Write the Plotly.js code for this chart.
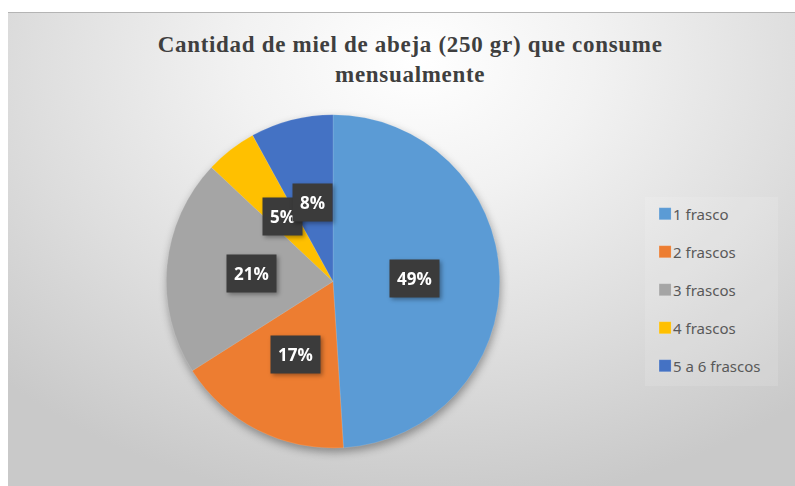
<!DOCTYPE html>
<html>
<head>
<meta charset="utf-8">
<script src="https://cdn.plot.ly/plotly-3.0.1.min.js"></script>
<style>
  html, body { margin: 0; padding: 0; background: #ffffff; width: 795px; height: 486px; overflow: hidden; }
  #wrap {
    position: absolute; left: 8px; top: 12px; width: 787px; height: 474px;
    background: radial-gradient(ellipse 75% 95% at 52% 10%, #ffffff 0%, #f2f2f2 30%, #dedede 65%, #c9c9c9 100%);
    border-top: 1px solid #b4b4b4;
    box-sizing: border-box;
  }
  #chart { width: 787px; height: 473px; }
  .pielayer { filter: drop-shadow(1px 4px 4px rgba(0,0,0,0.35)); }
  .annotation { filter: drop-shadow(2px 2px 2px rgba(0,0,0,0.35)); }
</style>
</head>
<body>
<div id="wrap"><div id="chart"></div></div>
<script>
const categories = ["1 frasco", "2 frascos", "3 frascos", "4 frascos", "5 a 6 frascos"];
const values = [49, 17, 21, 5, 8];
const colors = ["#5B9BD5", "#ED7D31", "#A5A5A5", "#FFC000", "#4472C4"];
const titleText = "Cantidad de miel de abeja (250 gr) que consume<br>mensualmente";

const W = 787, H = 473;
const domX = [0.1995, 0.6264];
const domY = [0.080, 0.785];

// label positions derived from the data (mid-angle of each slice, clockwise from 12 o'clock)
const cxPx = (domX[0] + domX[1]) / 2 * W;
const cyPx = (1 - (domY[0] + domY[1]) / 2) * H;
const Rpx = Math.min((domX[1] - domX[0]) * W, (domY[1] - domY[0]) * H) / 2;
const total = values.reduce((a, b) => a + b, 0);
let cum = 0;
const annotations = values.map((v, i) => {
  const mid = (cum + v / 2) / total * 2 * Math.PI;
  cum += v;
  const r = 0.49 * Rpx;
  const px = cxPx + r * Math.sin(mid);
  const py = cyPx - r * Math.cos(mid);
  return {
    xref: "paper", yref: "paper", x: px / W, y: 1 - py / H,
    text: Math.round(v / total * 100) + "%",
    showarrow: false,
    font: { family: "Open Sans", size: 17, color: "#ffffff", weight: "bold" },
    bgcolor: "#3b3b3b",
    borderpad: 7,
    xanchor: "center", yanchor: "middle"
  };
});

const data = [{
  type: "pie",
  labels: categories,
  values: values,
  sort: false,
  direction: "clockwise",
  rotation: 0,
  marker: { colors: colors, line: { color: "rgba(255,255,255,0.25)", width: 0.5 } },
  textinfo: "none",
  hoverinfo: "label+percent",
  domain: { x: domX, y: domY }
}];

const layout = {
  width: W, height: H,
  margin: { l: 0, r: 0, t: 0, b: 0 },
  paper_bgcolor: "rgba(0,0,0,0)",
  plot_bgcolor: "rgba(0,0,0,0)",
  title: {
    text: titleText,
    font: { family: "Liberation Serif", size: 23, color: "#3f3f3f", weight: "bold" },
    x: 0.511, xanchor: "center",
    y: 0.918, yanchor: "top"
  },
  showlegend: true,
  legend: {
    x: 0.8095, xanchor: "left",
    y: 0.61, yanchor: "top",
    font: { family: "Noto Sans", size: 15, color: "#595959" },
    bgcolor: "rgba(255,255,255,0.12)",
    itemwidth: 30
  },
  annotations: annotations
};

Plotly.newPlot("chart", data, layout, { displayModeBar: false, staticPlot: true }).then(gd => {
  // spread legend entries to match the reference spacing
  const sb = gd.querySelector(".legend .scrollbox");
  if (sb) sb.removeAttribute("clip-path");
  const items = gd.querySelectorAll(".legend .traces");
  const gap = 38;
  let x0 = 0, y0 = 0;
  items.forEach((el, i) => {
    const t = el.getAttribute("transform") || "";
    const m = t.match(/translate\(([-\d.]+)[ ,]*([-\d.]+)?\)/);
    if (i === 0 && m) { x0 = parseFloat(m[1]); y0 = parseFloat(m[2] || 0); }
    el.setAttribute("transform", "translate(" + x0 + "," + (y0 + i * gap) + ")");
    const txt = el.querySelector(".legendtext");
    if (txt) {
      const tx = parseFloat(txt.getAttribute("x") || 0);
      txt.setAttribute("x", tx - 12);
      txt.querySelectorAll("tspan").forEach(ts => { if (ts.getAttribute("x")) ts.setAttribute("x", tx - 12); });
    }
  });
  const bg = gd.querySelector(".legend rect.bg");
  if (bg) bg.setAttribute("height", y0 + (items.length - 1) * gap + 20);
  // title face and spacing closer to the original's Cambria
  gd.querySelectorAll(".gtitle").forEach(t => {
    t.style.fontFamily = "'Liberation Serif', 'DejaVu Serif', serif";
    t.style.letterSpacing = "0.7px";
  });
});
</script>
</body>
</html>
